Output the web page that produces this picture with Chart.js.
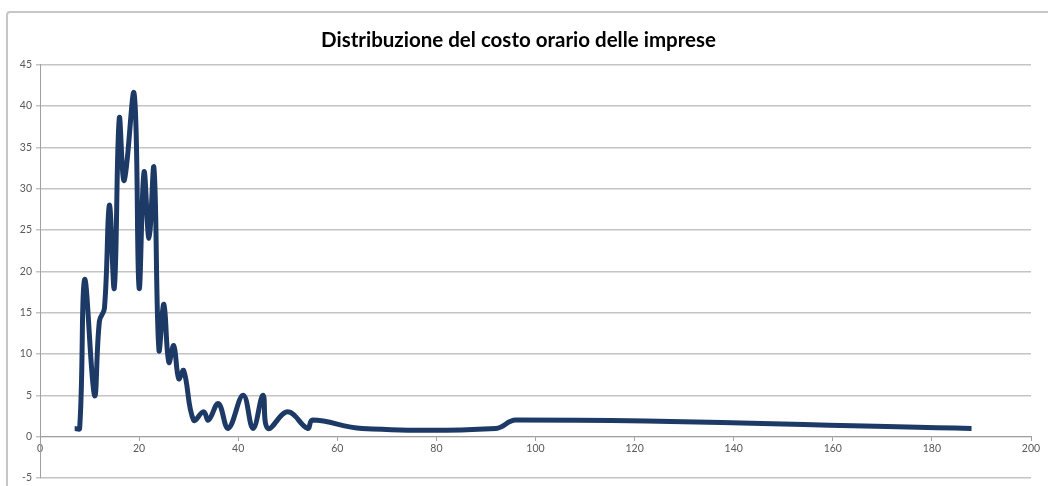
<!DOCTYPE html>
<html>
<head>
<meta charset="utf-8">
<script src="https://cdn.jsdelivr.net/npm/chart.js@4"></script>
<style>
  html, body { margin: 0; padding: 0; background: #fff; overflow: hidden; }
  #wrap { position: relative; width: 1048px; height: 486px; }
  #frame { position: absolute; left: 6px; top: 11px; width: 1060px; height: 500px;
           border: 2px solid #c6c6c6; border-radius: 4px; pointer-events: none; }
</style>
</head>
<body>
<div id="wrap">
  <canvas id="costChart" width="1048" height="486"></canvas>
  <div id="frame"></div>
</div>
<script>
// costo orario (x) e frequenza (y)
const costo = [7, 8, 9, 11, 12, 13, 14, 15, 16, 17, 19, 20, 21, 22, 23, 24, 25, 26, 27, 28, 29,
  31, 33, 34, 36, 38, 41, 43, 45, 46, 50, 54, 55, 65, 92, 96, 188];
const frequenza = [1, 1, 19, 5, 14, 15.5, 28, 18, 38.5, 31, 41.5, 18, 32, 24, 32.5, 10.5, 16, 9, 11, 7, 8,
  2, 3, 2, 4, 1, 5, 1, 5, 1, 3, 1, 2, 1, 1, 2, 1];

const titolo = "Distribuzione del costo orario delle imprese";

const points = costo.map((x, i) => ({ x: x, y: frequenza[i] }));

const tickFont = { family: "Lato", size: 10.5 };

new Chart(document.getElementById("costChart"), {
  type: "scatter",
  data: {
    datasets: [
      {
        data: points,
        showLine: true,
        borderColor: "#1d3a66",
        borderWidth: 5,
        pointRadius: 0,
        tension: 0.4,
        fill: false,
      },
    ],
  },
  options: {
    responsive: false,
    animation: false,
    layout: { padding: { left: 6, right: 17, top: 12, bottom: 8 } },
    plugins: {
      legend: { display: false },
      tooltip: { enabled: false },
      title: {
        display: true,
        text: titolo,
        color: "#000",
        font: { family: "Lato", size: 20.5, weight: "bold" },
        padding: { top: 16, bottom: 12 },
      },
    },
    scales: {
      x: {
        type: "linear",
        min: 0,
        max: 200,
        position: { y: 0 },
        ticks: { stepSize: 20, color: "#595959", font: tickFont, padding: 2, maxRotation: 0 },
        grid: { drawOnChartArea: false, drawTicks: true, tickLength: 4, color: "#a0a0a0" },
        border: { color: "#a0a0a0", width: 1 },
        afterFit: (scale) => { scale.height = 0; },
      },
      y: {
        min: -5,
        max: 45,
        ticks: { stepSize: 5, color: "#595959", font: tickFont, padding: 4 },
        grid: { color: "#c4c4c4", lineWidth: 1.5, tickLength: 4 },
        border: { color: "#a0a0a0", width: 1 },
        afterFit: (scale) => { scale.width = 34; scale.paddingBottom = 0; },
      },
    },
  },
});
</script>
</body>
</html>
